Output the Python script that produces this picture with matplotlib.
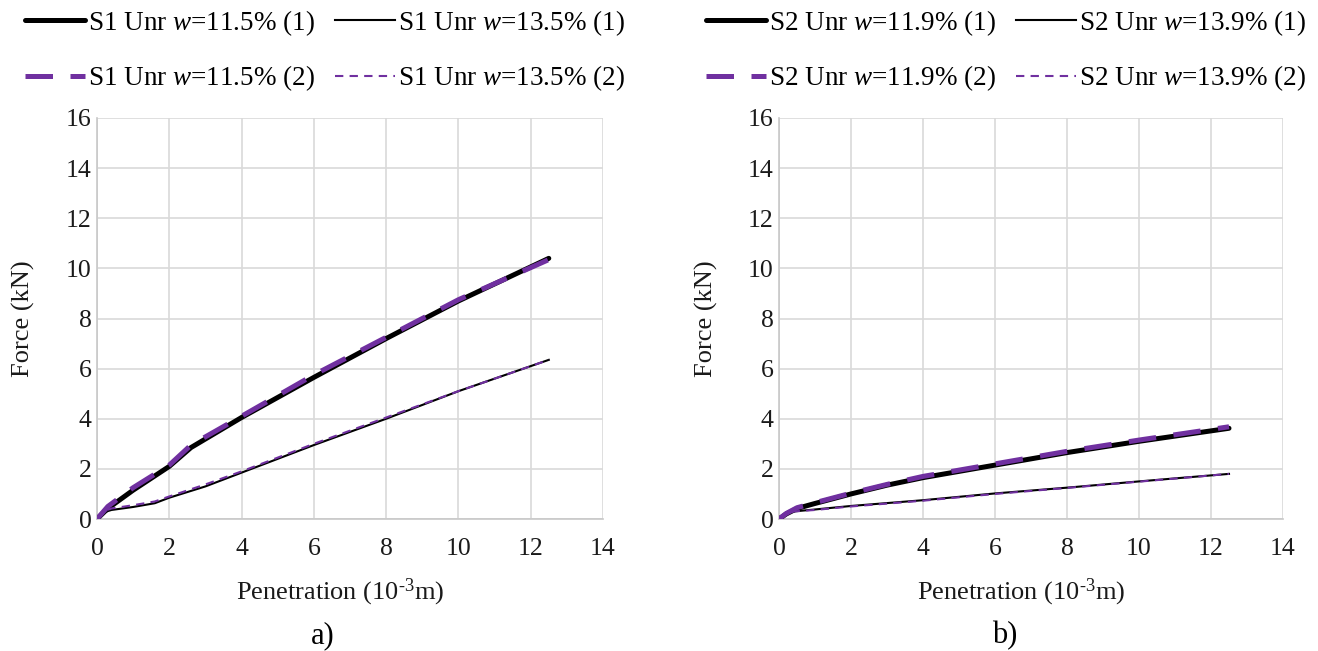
import matplotlib
matplotlib.use("Agg")
import matplotlib.pyplot as plt

plt.rcParams['font.family'] = ['Liberation Serif', 'DejaVu Serif']
plt.rcParams['mathtext.fontset'] = 'custom'
plt.rcParams['mathtext.rm'] = 'Liberation Serif'
plt.rcParams['mathtext.it'] = 'Liberation Serif:italic'

# Panel a) S1
s1_hi_x1 = [0, 0.3, 1.0, 2.0, 2.6, 4.0, 6.0, 8.0, 10.0, 12.5]
s1_hi_y1 = [0, 0.42, 1.15, 2.1, 2.85, 4.05, 5.65, 7.2, 8.7, 10.4]
s1_hi_x2 = [0, 0.3, 1.0, 2.0, 2.6, 4.0, 6.0, 8.0, 10.0, 12.5]
s1_hi_y2 = [0, 0.5, 1.25, 2.15, 2.95, 4.1, 5.75, 7.25, 8.75, 10.35]
s1_lo_x1 = [0, 0.15, 0.4, 1.0, 1.6, 2.0, 3.0, 4.0, 6.0, 8.0, 10.0, 12.5]
s1_lo_y1 = [0, 0.25, 0.36, 0.48, 0.63, 0.85, 1.3, 1.85, 2.95, 4.0, 5.1, 6.35]
s1_lo_x2 = [0, 0.15, 0.4, 1.0, 1.6, 2.0, 3.0, 4.0, 6.0, 8.0, 10.0, 12.5]
s1_lo_y2 = [0, 0.3, 0.42, 0.55, 0.7, 0.9, 1.38, 1.9, 3.0, 4.05, 5.1, 6.35]

# Panel b) S2
s2_hi_x1 = [0, 0.2, 0.5, 1.0, 2.0, 3.0, 4.0, 6.0, 8.0, 10.0, 12.5]
s2_hi_y1 = [0, 0.2, 0.42, 0.62, 1.0, 1.35, 1.65, 2.15, 2.65, 3.1, 3.62]
s2_hi_x2 = [0, 0.2, 0.5, 1.0, 2.0, 3.0, 4.0, 6.0, 8.0, 10.0, 12.5]
s2_hi_y2 = [0, 0.22, 0.45, 0.65, 1.03, 1.38, 1.7, 2.2, 2.7, 3.15, 3.68]
s2_lo_x1 = [0, 0.2, 0.4, 1.0, 2.0, 4.0, 6.0, 8.0, 10.0, 12.5]
s2_lo_y1 = [0, 0.22, 0.3, 0.38, 0.52, 0.75, 1.02, 1.25, 1.5, 1.8]
s2_lo_x2 = [0, 0.2, 0.4, 1.0, 2.0, 4.0, 6.0, 8.0, 10.0, 12.5]
s2_lo_y2 = [0, 0.2, 0.3, 0.36, 0.5, 0.73, 1.0, 1.24, 1.49, 1.8]

labels_a = ["S1 Unr $w$=11.5% (1)", "S1 Unr $w$=11.5% (2)",
            "S1 Unr $w$=13.5% (1)", "S1 Unr $w$=13.5% (2)"]
labels_b = ["S2 Unr $w$=11.9% (1)", "S2 Unr $w$=11.9% (2)",
            "S2 Unr $w$=13.9% (1)", "S2 Unr $w$=13.9% (2)"]

xticks = [0, 2, 4, 6, 8, 10, 12, 14]
yticks = [0, 2, 4, 6, 8, 10, 12, 14, 16]

PURPLE = '#7030A0'
GRID = '#d9d9d9'
TXT = '#1a1a1a'

W, H = 1318, 651
fig = plt.figure(figsize=(W / 100, H / 100), dpi=100)
ax1 = fig.add_axes([97 / W, 1 - 519 / H, 506 / W, 401 / H])
ax2 = fig.add_axes([779 / W, 1 - 519 / H, 504 / W, 401 / H])

def draw(ax, data, labels, caption, leg_x):
    (hx1, hy1, hx2, hy2, lx1, ly1, lx2, ly2) = data
    h1, = ax.plot(hx1, hy1, color='black', lw=3.6, solid_capstyle='round', zorder=3)
    h3, = ax.plot(lx1, ly1, color='black', lw=1.5, zorder=3)
    h2, = ax.plot(hx2, hy2, color=PURPLE, lw=3.6, dashes=(5.5, 3.5), zorder=4)
    h4, = ax.plot(lx2, ly2, color=PURPLE, lw=1.5, dashes=(4, 3), zorder=4)
    ax.set_xlim(0, 14)
    ax.set_ylim(0, 16)
    ax.set_xticks(xticks)
    ax.set_yticks(yticks)
    ax.grid(True, color=GRID, lw=1.2)
    ax.set_axisbelow(True)
    for s in ['top', 'right']:
        ax.spines[s].set_visible(False)
    for s in ['left', 'bottom']:
        ax.spines[s].set_color('#c8c8c8')
        ax.spines[s].set_linewidth(1.2)
    ax.tick_params(length=0, labelsize=18.5, colors=TXT)
    ax.tick_params(axis='x', pad=14)
    ax.tick_params(axis='y', pad=4)
    ax.set_xlabel("Penetration (10$^{\\text{-}3}$m)", fontsize=19, color=TXT)
    ax.xaxis.set_label_coords(0.48, -0.143)
    ax.set_ylabel("Force (kN)", fontsize=19, color=TXT)
    ax.yaxis.set_label_coords(-0.122, 0.5)
    fig.legend([h1, h2, h3, h4], labels, ncol=2, frameon=False, fontsize=19.5,
               loc='upper left', bbox_to_anchor=(leg_x / W, 1 - 8 / H),
               borderpad=0, borderaxespad=0, handlelength=2.2,
               handletextpad=0.12, columnspacing=0.75, labelspacing=0.95)
    ax.text(0.447, -0.29, caption, transform=ax.transAxes, ha='center', va='center',
            fontsize=22, color='black')

draw(ax1, (s1_hi_x1, s1_hi_y1, s1_hi_x2, s1_hi_y2, s1_lo_x1, s1_lo_y1, s1_lo_x2, s1_lo_y2),
     labels_a, "a)", 25)
draw(ax2, (s2_hi_x1, s2_hi_y1, s2_hi_x2, s2_hi_y2, s2_lo_x1, s2_lo_y1, s2_lo_x2, s2_lo_y2),
     labels_b, "b)", 706)

fig.savefig("out.png", dpi=100)
